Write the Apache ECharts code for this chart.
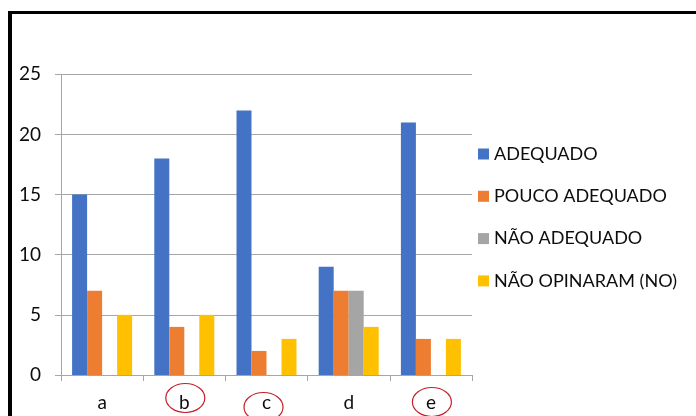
<!DOCTYPE html>
<html>
<head>
<meta charset="utf-8">
<script src="https://cdn.jsdelivr.net/npm/echarts@6/dist/echarts.min.js"></script>
<style>
  html, body { margin: 0; padding: 0; background: #fff; }
  #chart { width: 696px; height: 416px; }
</style>
</head>
<body>
<div id="chart"></div>
<script>
// Categories and series values
const categories = ['a', 'b', 'c', 'd', 'e'];
const adequado = [15, 18, 22, 9, 21];
const poucoAdequado = [7, 4, 2, 7, 3];
const naoAdequado = [0, 0, 0, 7, 0];
const naoOpinaram = [5, 5, 3, 4, 3];
const seriesNames = ['ADEQUADO', 'POUCO ADEQUADO', 'NÃO ADEQUADO', 'NÃO OPINARAM (NO)'];
const yTicks = [0, 5, 10, 15, 20, 25];
// Categories circled in red below the axis
const circled = ['b', 'c', 'e'];

const FONT = 'Lato';
const colors = ['#4472C4', '#ED7D31', '#A5A5A5', '#FFC000'];
const seriesData = [adequado, poucoAdequado, naoAdequado, naoOpinaram];

const chart = echarts.init(document.getElementById('chart'), null, { renderer: 'canvas' });

const option = {
  animation: false,
  backgroundColor: '#fff',
  textStyle: { fontFamily: FONT },
  grid: { left: 61, right: 224, top: 74.3, bottom: 41, containLabel: false },
  legend: {
    orient: 'vertical',
    left: 478,
    top: 144,
    padding: 0,
    itemWidth: 11,
    itemHeight: 11,
    itemGap: 22.3,
    icon: 'rect',
    data: seriesNames,
    textStyle: { fontFamily: FONT, fontSize: 18, color: '#0d0d0d', lineHeight: 20 }
  },
  xAxis: {
    type: 'category',
    data: categories,
    axisLine: { lineStyle: { color: '#A6A6A6', width: 1 } },
    axisTick: { show: true, length: 6, lineStyle: { color: '#A6A6A6' } },
    axisLabel: { fontFamily: FONT, fontSize: 19, color: '#0d0d0d', margin: 18 }
  },
  yAxis: {
    type: 'value',
    min: yTicks[0],
    max: yTicks[yTicks.length - 1],
    interval: 5,
    axisLine: { show: true, lineStyle: { color: '#A6A6A6', width: 1 } },
    axisTick: { show: true, length: 6, lineStyle: { color: '#A6A6A6' } },
    splitLine: { lineStyle: { color: '#A6A6A6', width: 1 } },
    axisLabel: { fontFamily: FONT, fontSize: 19, color: '#0d0d0d', margin: 20 }
  },
  series: seriesNames.map((name, i) => ({
    name,
    type: 'bar',
    data: seriesData[i],
    barGap: '0%',
    barCategoryGap: '27%',
    itemStyle: { color: colors[i] }
  }))
};

chart.setOption(option);

// Outer frame (left and top edges visible) plus red rings around selected category labels
const ringOffsets = { b: [1, 23], c: [-3, 32], e: [1, 27] };
const zeroY = chart.convertToPixel({ yAxisIndex: 0 }, 0);
const rings = circled.map(cat => {
  const cx = chart.convertToPixel({ xAxisIndex: 0 }, cat);
  const off = ringOffsets[cat];
  return {
    type: 'ellipse',
    shape: { cx: cx + off[0], cy: zeroY + off[1], rx: 19.5, ry: 14.5 },
    style: { fill: null, stroke: '#C41E28', lineWidth: 1.2 },
    z: 100
  };
});

chart.setOption({
  graphic: [
    { type: 'line', shape: { x1: 10, y1: 11, x2: 10, y2: 420 }, style: { stroke: '#000', lineWidth: 4 }, z: 100 },
    { type: 'line', shape: { x1: 8, y1: 12.5, x2: 700, y2: 12.5 }, style: { stroke: '#000', lineWidth: 3 }, z: 100 }
  ].concat(rings)
});
</script>
</body>
</html>
